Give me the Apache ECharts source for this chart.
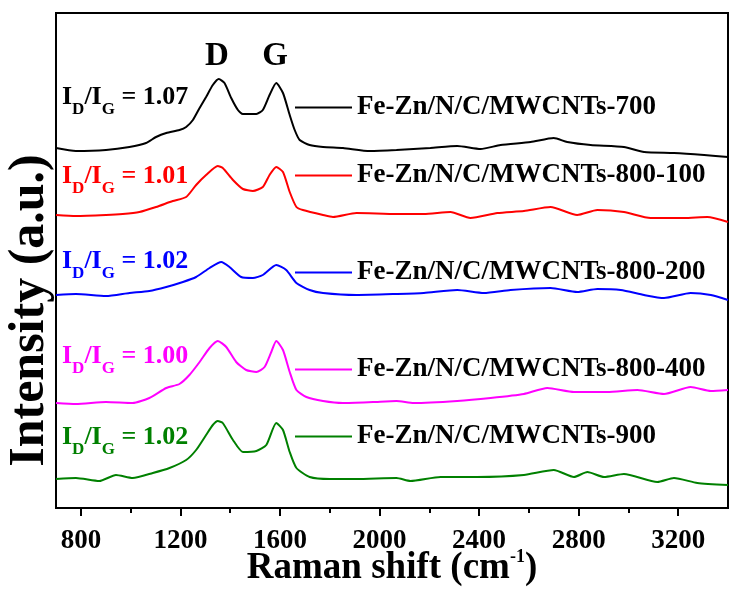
<!DOCTYPE html>
<html>
<head>
<meta charset="utf-8">
<script src="https://cdn.jsdelivr.net/npm/echarts@6/dist/echarts.min.js"></script>
<style>html,body{margin:0;padding:0;background:#fff}#c{width:730px;height:590px}</style>
</head>
<body>
<div id="c"></div>
<script>
// ---- data (Raman shift in cm-1, intensity in arbitrary offset units) ----
const seriesNames = ['Fe-Zn/N/C/MWCNTs-700','Fe-Zn/N/C/MWCNTs-800-100','Fe-Zn/N/C/MWCNTs-800-200','Fe-Zn/N/C/MWCNTs-800-400','Fe-Zn/N/C/MWCNTs-900'];
const ratioLabels = ['1.07','1.01','1.02','1.00','1.02'];
const peakLabels = ['D','G'];
const xTicks = [800,1200,1600,2000,2400,2800,3200];
const xMinorTicks = [1000,1400,1800,2200,2600,3000];

const s700_x = [700,780,901,995,1062,1102,1143,1196,1223,1250,1277,1303,1330,1354,1377,1404,1431,1451,1505,1531,1558,1585,1612,1639,1659,1679,1719,1773,1853,1961,2068,2204,2312,2406,2486,2607,2700,2754,2848,2982,3063,3183,3304,3400];
const s700_y = [360,357,358,361,365,371,375,378,381,388,400,411,423,429,425,410,398,394,394,398,413,425,415,393,378,368,363,361,360,357,358,360,362,359,363,366,370,366,363,361,356,355,353,351];

const s800_100_x = [700,780,901,968,1035,1102,1169,1223,1263,1303,1350,1370,1411,1451,1491,1531,1558,1585,1612,1639,1666,1692,1773,1813,1907,2068,2178,2285,2365,2473,2580,2687,2794,2875,2982,3089,3224,3317,3400];
const s800_100_y = [293,292,293,294,296,301,307,311,323,333,342,340,328,319,317,321,333,341,336,316,301,298,293,291,295,294,294,296,290,295,297,301,293,298,296,290,290,291,286];

const s800_200_x = [700,780,901,995,1075,1143,1210,1263,1317,1364,1397,1444,1491,1531,1585,1625,1666,1719,1773,1907,2068,2178,2312,2419,2526,2687,2794,2875,2969,3063,3143,3250,3331,3400];
const s800_200_y = [213,214,212,215,217,221,226,231,240,246,241,231,230,233,243,238,225,218,215,213,214,215,218,215,218,220,216,219,218,213,210,215,213,208];

const s800_400_x = [700,780,901,1008,1075,1143,1196,1236,1277,1317,1350,1384,1424,1464,1505,1538,1565,1585,1612,1639,1666,1706,1773,1853,1974,2068,2137,2312,2446,2580,2674,2781,2915,3036,3143,3250,3331,3400];
const s800_400_y = [105,104,106,105,110,120,124,133,146,160,167,161,146,138,136,141,156,167,158,136,118,111,107,105,106,107,105,107,110,114,120,116,116,118,114,121,117,118];

const s900_x = [700,780,874,941,1008,1089,1156,1223,1263,1303,1330,1350,1370,1411,1451,1505,1545,1585,1612,1639,1666,1719,1800,1907,2068,2124,2245,2392,2580,2700,2781,2835,2902,2982,3116,3183,3277,3400];
const s900_y = [29,30,27,33,30,35,40,48,58,73,83,87,85,68,56,57,63,85,78,56,40,31,29,29,30,27,31,31,33,38,31,36,31,34,26,30,25,23];

const seriesX = [s700_x, s800_100_x, s800_200_x, s800_400_x, s900_x];
const seriesY = [s700_y, s800_100_y, s800_200_y, s800_400_y, s900_y];
const colors = ['#000000','#ff0000','#0000ff','#ff00ff','#008000'];

// ---- layout ----
const FONT = 'Liberation Serif';
const legendTops = [94, 162, 259, 356, 423];
const ratioY = [97, 176, 261, 356, 437];
const peakLabelX = [217, 275];

const chart = echarts.init(document.getElementById('c'), null, {renderer:'canvas'});

const series = seriesNames.map((n, i) => ({
  name: n,
  type: 'line',
  xAxisIndex: 0,
  data: seriesX[i].map((x, k) => [x, seriesY[i][k]]),
  symbol: 'none',
  smooth: 0.2,
  lineStyle: {color: colors[i], width: 2},
  itemStyle: {color: colors[i]},
  silent: true
}));

const legends = seriesNames.map((n, i) => ({
  data: [{name: n, icon: 'rect'}],
  left: 295,
  top: legendTops[i],
  padding: 0,
  itemWidth: 57,
  itemHeight: 2,
  itemGap: 5,
  selectedMode: false,
  textStyle: {fontFamily: FONT, fontWeight: 'bold', fontSize: 27, color: '#000'}
}));

const graphics = [];
ratioLabels.forEach((r, i) => {
  graphics.push({
    type: 'text', x: 62, y: ratioY[i], silent: true,
    style: {
      text: '{m|I}{s|D}{m|/I}{s|G}{m| = ' + r + '}',
      verticalAlign: 'middle',
      fill: colors[i],
      rich: {
        m: {fontFamily: FONT, fontWeight: 'bold', fontSize: 26, fill: colors[i]},
        s: {fontFamily: FONT, fontWeight: 'bold', fontSize: 17, fill: colors[i], padding: [26,0,0,0]}
      }
    }
  });
});
peakLabels.forEach((p, i) => {
  graphics.push({
    type: 'text', x: peakLabelX[i], y: 56, silent: true,
    style: {text: p, font: 'bold 33px "' + FONT + '"', fill: '#000', align: 'center', verticalAlign: 'middle'}
  });
});

const option = {
  animation: false,
  backgroundColor: '#fff',
  grid: {left: 56, right: 2, top: 13, bottom: 82, show: true, borderColor: '#000', borderWidth: 2, containLabel: false, outerBoundsMode: 'none'},
  legend: legends,
  xAxis: [{
    type: 'value', min: 700, max: 3400,
    axisLine: {show: true, lineStyle: {color: '#000', width: 2}},
    axisTick: {show: true, inside: false, length: 8, lineStyle: {color: '#000', width: 2}, customValues: xTicks},
    axisLabel: {show: true, margin: 20, fontFamily: FONT, fontWeight: 'bold', fontSize: 27, color: '#000', customValues: xTicks, formatter: v => String(v)},
    splitLine: {show: false},
    name: '{t|Raman shift (cm}{sup|-1}{t|)}',
    nameLocation: 'middle',
    nameGap: 40,
    nameMoveOverlap: false,
    nameTextStyle: {
      rich: {
        t: {fontFamily: FONT, fontWeight: 'bold', fontSize: 37, color: '#000'},
        sup: {fontFamily: FONT, fontWeight: 'bold', fontSize: 18, color: '#000', padding: [0,0,22,0]}
      }
    }
  }, {
    type: 'value', min: 700, max: 3400, position: 'bottom', gridIndex: 0,
    axisLine: {show: false},
    axisTick: {show: true, inside: false, length: 5, lineStyle: {color: '#000', width: 2}, customValues: xMinorTicks},
    axisLabel: {show: false},
    splitLine: {show: false}
  }],
  yAxis: {
    type: 'value', min: 0, max: 495,
    axisLine: {show: true, lineStyle: {color: '#000', width: 2}},
    axisTick: {show: false},
    axisLabel: {show: false},
    splitLine: {show: false},
    name: 'Intensity (a.u.)',
    nameLocation: 'middle',
    nameRotate: 90,
    nameGap: 1,
    nameTextStyle: {fontFamily: FONT, fontWeight: 'bold', fontSize: 50, color: '#000', padding: [0,100,0,0]}
  },
  graphic: graphics,
  series: series
};
chart.setOption(option);
</script>
</body>
</html>
